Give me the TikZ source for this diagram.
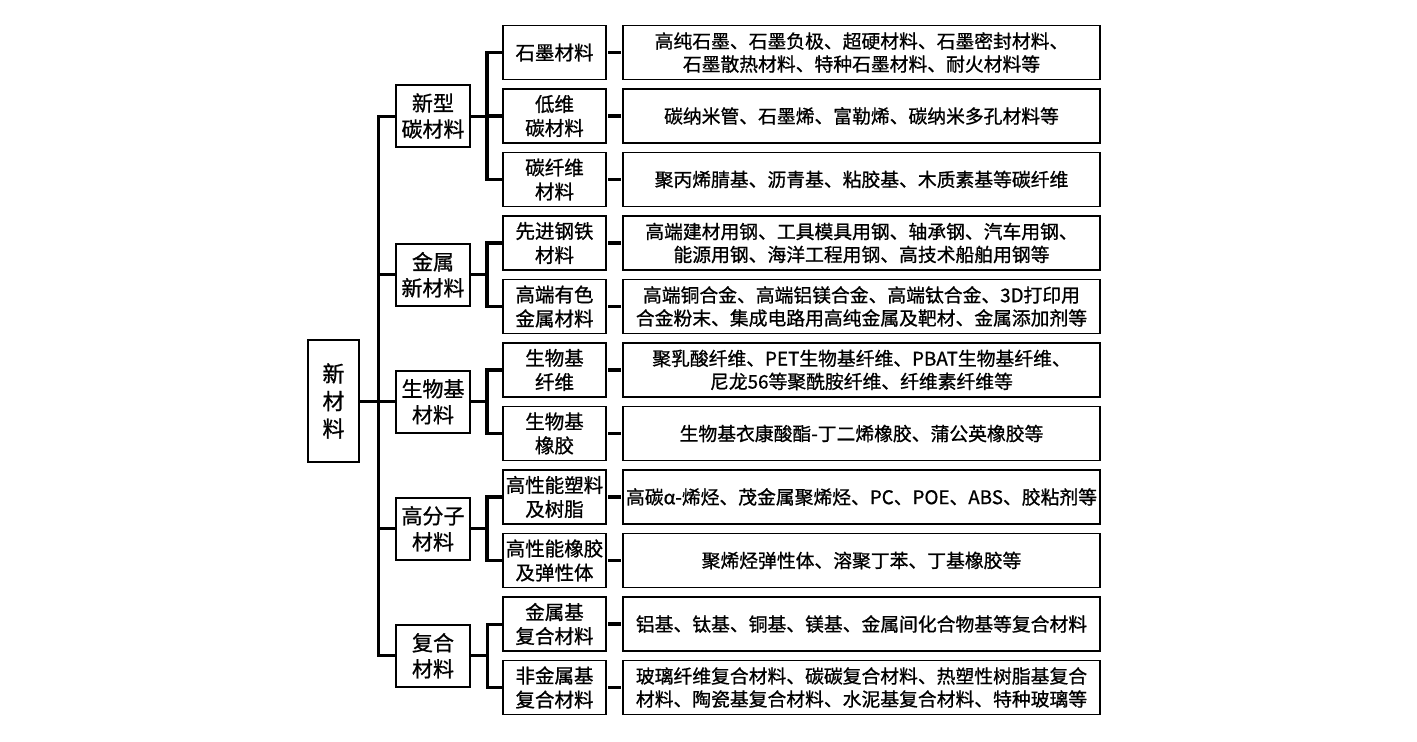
\documentclass[tikz,border=0pt]{standalone}
\usepackage{fontspec}
\setmainfont{Noto Sans CJK SC}[FakeBold=0.9]
\begin{document}
\begin{tikzpicture}[x=1bp,y=-1bp,
  box/.style={draw=black,line width=1.6bp,inner sep=0pt,align=center,fill=white},
  rootbox/.style={box,minimum width=51bp,minimum height=122bp,font=\fontsize{22bp}{27.5bp}\selectfont},
  catbox/.style={box,minimum width=74bp,minimum height=62bp,font=\fontsize{21bp}{26bp}\selectfont},
  subbox/.style={box,minimum width=103bp,minimum height=54bp,font=\fontsize{19.5bp}{24bp}\selectfont},
  descbox/.style={box,minimum width=477bp,minimum height=54bp,font=\fontsize{18.8bp}{23bp}\selectfont},
  bus/.style={draw=black,line width=3bp},
  busthick/.style={draw=black,line width=3.6bp},
  dashline/.style={draw=black,line width=3.2bp,shorten <=1.5bp,shorten >=1.5bp}]
\useasboundingbox (0,0) rectangle (1417,741);
% root
\node[rootbox] (root) at (333.5,401) {新\\材\\料};
% level 1
\node[catbox] (g1) at (433,116) {新型\\碳材料};
\node[catbox] (g2) at (433,274.75) {金属\\新材料};
\node[catbox] (g3) at (433,401.75) {生物基\\材料};
\node[catbox] (g4) at (433,528.75) {高分子\\材料};
\node[catbox] (g5) at (433,655.75) {复合\\材料};
% level 2
\node[subbox] (s1) at (554.5,52.5) {石墨材料};
\node[subbox] (s2) at (554.5,116) {低维\\碳材料};
\node[subbox] (s3) at (554.5,179.5) {碳纤维\\材料};
\node[subbox] (s4) at (554.5,243) {先进钢铁\\材料};
\node[subbox] (s5) at (554.5,306.5) {高端有色\\金属材料};
\node[subbox] (s6) at (554.5,370) {生物基\\纤维};
\node[subbox] (s7) at (554.5,433.5) {生物基\\橡胶};
\node[subbox] (s8) at (554.5,497) {高性能塑料\\及树脂};
\node[subbox] (s9) at (554.5,560.5) {高性能橡胶\\及弹性体};
\node[subbox] (s10) at (554.5,624) {金属基\\复合材料};
\node[subbox] (s11) at (554.5,687.5) {非金属基\\复合材料};
% descriptions
\node[descbox] (d1) at (861.5,52.5) {高纯石墨、石墨负极、超硬材料、石墨密封材料、\\石墨散热材料、特种石墨材料、耐火材料等};
\node[descbox] (d2) at (861.5,116) {碳纳米管、石墨烯、富勒烯、碳纳米多孔材料等};
\node[descbox] (d3) at (861.5,179.5) {聚丙烯腈基、沥青基、粘胶基、木质素基等碳纤维};
\node[descbox] (d4) at (861.5,243) {高端建材用钢、工具模具用钢、轴承钢、汽车用钢、\\能源用钢、海洋工程用钢、高技术船舶用钢等};
\node[descbox] (d5) at (861.5,306.5) {高端铜合金、高端铝镁合金、高端钛合金、3D打印用\\合金粉末、集成电路用高纯金属及靶材、金属添加剂等};
\node[descbox] (d6) at (861.5,370) {聚乳酸纤维、PET生物基纤维、PBAT生物基纤维、\\尼龙56等聚酰胺纤维、纤维素纤维等};
\node[descbox] (d7) at (861.5,433.5) {生物基衣康酸酯-丁二烯橡胶、蒲公英橡胶等};
\node[descbox] (d8) at (861.5,497) {高碳α-烯烃、茂金属聚烯烃、PC、POE、ABS、胶粘剂等};
\node[descbox] (d9) at (861.5,560.5) {聚烯烃弹性体、溶聚丁苯、丁基橡胶等};
\node[descbox] (d10) at (861.5,624) {铝基、钛基、铜基、镁基、金属间化合物基等复合材料};
\node[descbox] (d11) at (861.5,687.5) {玻璃纤维复合材料、碳碳复合材料、热塑性树脂基复合\\材料、陶瓷基复合材料、水泥基复合材料、特种玻璃等};
% main bus coordinates
\coordinate (m1) at (378,116);
\coordinate (m2) at (378,274.75);
\coordinate (m3) at (378,401.75);
\coordinate (m4) at (378,528.75);
\coordinate (m5) at (378,655.75);
\coordinate (mr) at (378,401);
\draw[bus] (g1.west) -- (m1) -- (m5) -- (g5.west);
\draw[bus] (m2) -- (g2.west);
\draw[bus] (m3) -- (g3.west);
\draw[bus] (m4) -- (g4.west);
\draw[bus] (root.east) -- (mr);
% sub buses
\coordinate (k1) at (487,116);
\coordinate (k2) at (487,274.75);
\coordinate (k3) at (487,401.75);
\coordinate (k4) at (487,528.75);
\coordinate (k5) at (487,655.75);
\coordinate (t1) at (487,52.5);
\coordinate (t3) at (487,179.5);
\coordinate (t4) at (487,243);
\coordinate (t5) at (487,306.5);
\coordinate (t6) at (487,370);
\coordinate (t7) at (487,433.5);
\coordinate (t8) at (487,497);
\coordinate (t9) at (487,560.5);
\coordinate (t10) at (487,624);
\coordinate (t11) at (487,687.5);
\draw[bus] (g1.east) -- (k1);
\draw[bus] (g2.east) -- (k2);
\draw[bus] (g3.east) -- (k3);
\draw[bus] (g4.east) -- (k4);
\draw[bus] (g5.east) -- (k5);
\draw[busthick] (s1.west) -- (t1) -- (t3) -- (s3.west);
\draw[busthick] (k1) -- (s2.west);
\draw[busthick] (s4.west) -- (t4) -- (t5) -- (s5.west);
\draw[busthick] (s6.west) -- (t6) -- (t7) -- (s7.west);
\draw[busthick] (s8.west) -- (t8) -- (t9) -- (s9.west);
\draw[bus] (s10.west) -- (t10) -- (t11) -- (s11.west);
% dashes
\foreach \i in {1,...,11} {\draw[dashline] (s\i.east) -- (d\i.west);}
\end{tikzpicture}
\end{document}
